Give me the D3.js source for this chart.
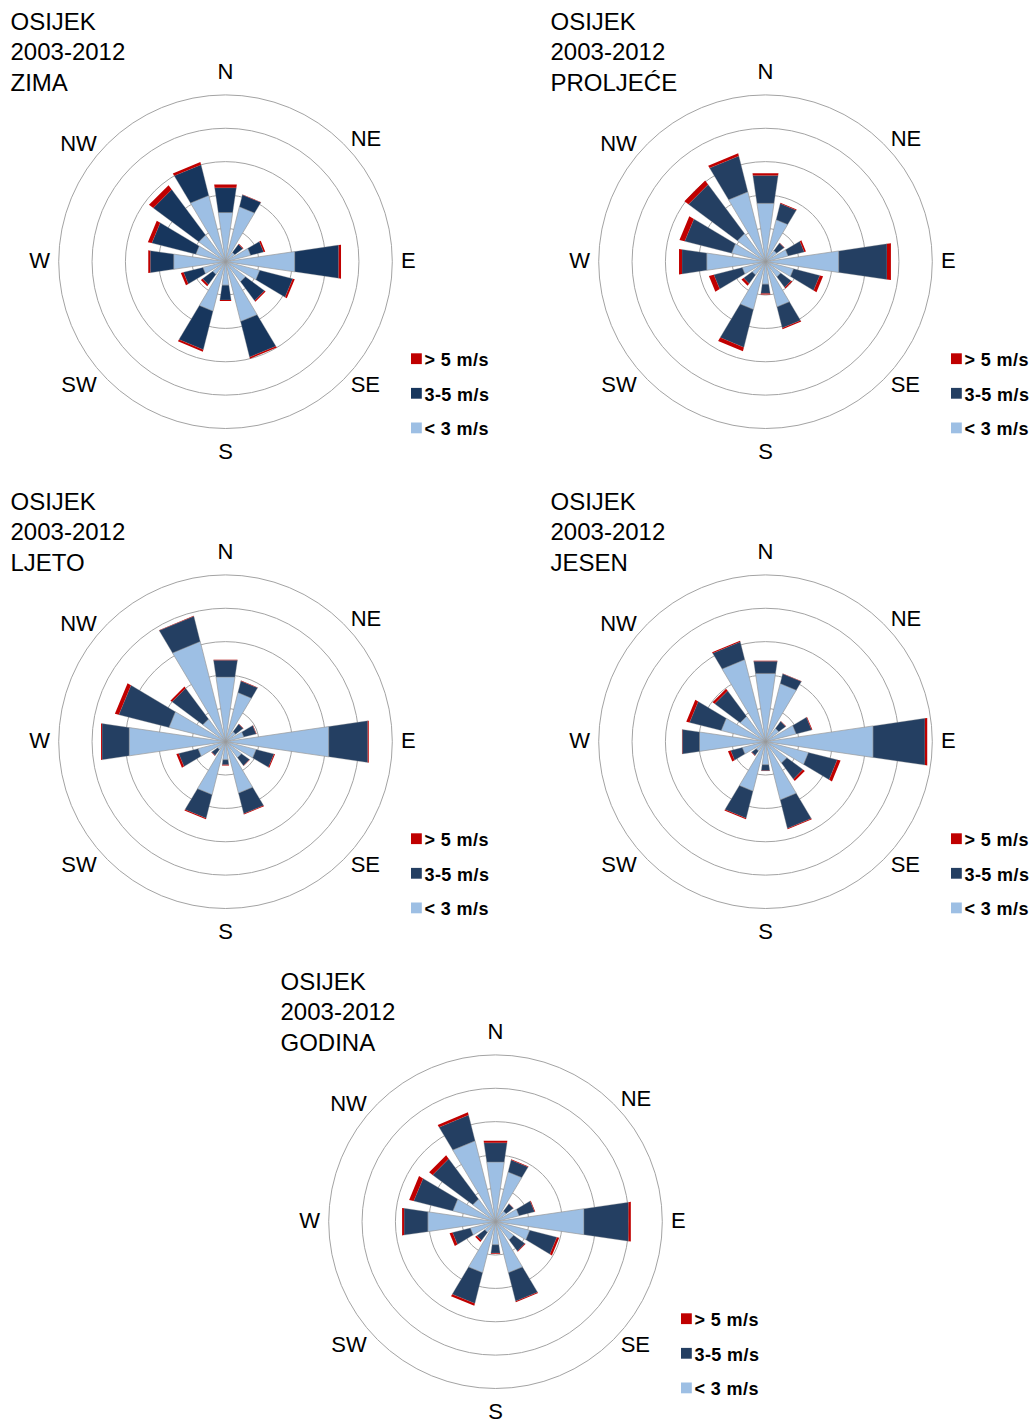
<!DOCTYPE html>
<html>
<head>
<meta charset="utf-8">
<script src="https://cdn.jsdelivr.net/npm/d3@7"></script>
<style>
  html, body { margin: 0; padding: 0; background: #ffffff; }
  svg { display: block; }
  text { font-family: "Liberation Sans", Arial, sans-serif; fill: #000; }
</style>
</head>
<body>
<svg id="chart" width="1036" height="1420"></svg>
<script>
// 16 wind directions, clockwise from north
const directions = ["N", "NNE", "NE", "ENE", "E", "ESE", "SE", "SSE",
                    "S", "SSW", "SW", "WSW", "W", "WNW", "NW", "NNW"];
// Compass labels drawn around each rose
const compassLabels = ["N", "NE", "E", "SE", "S", "SW", "W", "NW"];
// Speed classes (stack order from the centre outwards) and legend text
const speedKeys = ["low", "mid", "high"];
const legendLabels = ["> 5 m/s", "3-5 m/s", "< 3 m/s"];
// Grid rings (frequency, %)
const ringValues = [2, 4, 6, 8, 10];
const station = "OSIJEK";
const period = "2003-2012";

// Frequency (%) per direction for each speed class
const zimaLow  = [2.98, 3.40, 0.70, 1.56, 4.20, 2.12, 1.50, 3.70, 1.42, 3.06, 0.96, 1.40, 3.14, 1.84, 2.00, 4.10];
const zimaMid  = [1.50, 0.74, 0.60, 0.80, 2.66, 2.04, 1.42, 2.20, 0.90, 2.38, 0.76, 1.20, 1.42, 2.72, 3.40, 1.90];
const zimaHigh = [0.20, 0.02, 0.04, 0.10, 0.14, 0.12, 0.08, 0.10, 0.06, 0.12, 0.12, 0.16, 0.12, 0.24, 0.32, 0.16];

const proljeceLow  = [3.54, 2.60, 0.84, 1.40, 4.44, 1.74, 1.14, 2.80, 1.36, 2.96, 1.00, 1.44, 3.56, 2.10, 2.10, 4.32];
const proljeceMid  = [1.68, 1.00, 0.56, 1.00, 2.92, 1.62, 0.78, 1.30, 0.56, 2.34, 0.64, 1.76, 1.50, 2.90, 3.66, 2.22];
const proljeceHigh = [0.14, 0.04, 0.02, 0.10, 0.24, 0.20, 0.08, 0.08, 0.06, 0.24, 0.16, 0.30, 0.18, 0.32, 0.30, 0.16];

const ljetoLow  = [3.92, 3.04, 0.76, 1.14, 6.26, 1.90, 1.20, 3.18, 1.10, 3.28, 0.60, 1.70, 5.84, 3.50, 1.70, 6.20];
const ljetoMid  = [1.02, 0.72, 0.56, 0.76, 2.36, 1.10, 0.60, 1.28, 0.30, 1.46, 0.44, 1.20, 1.64, 3.10, 2.30, 1.56];
const ljetoHigh = [0.02, 0.02, 0.02, 0.02, 0.06, 0.06, 0.02, 0.04, 0.04, 0.06, 0.02, 0.14, 0.06, 0.24, 0.12, 0.02];

const jesenLow  = [4.14, 3.60, 1.00, 1.90, 6.52, 2.66, 1.60, 3.60, 1.40, 3.06, 0.70, 1.44, 4.00, 2.74, 1.90, 5.08];
const jesenMid  = [0.74, 0.60, 0.52, 0.96, 3.14, 1.78, 1.20, 1.76, 0.36, 1.68, 0.34, 0.72, 1.04, 1.96, 1.90, 1.10];
const jesenHigh = [0.02, 0.02, 0.02, 0.04, 0.14, 0.20, 0.14, 0.06, 0.02, 0.06, 0.02, 0.16, 0.02, 0.20, 0.16, 0.06];

const godinaLow  = [3.62, 3.08, 0.80, 1.46, 5.36, 2.12, 1.36, 3.16, 1.40, 3.16, 0.80, 1.56, 4.10, 2.64, 1.70, 5.00];
const godinaMid  = [1.16, 0.74, 0.54, 0.96, 2.70, 1.68, 0.84, 1.76, 0.50, 1.90, 0.60, 1.10, 1.44, 2.42, 3.00, 1.60];
const godinaHigh = [0.12, 0.04, 0.02, 0.04, 0.14, 0.14, 0.04, 0.06, 0.04, 0.14, 0.12, 0.18, 0.12, 0.28, 0.26, 0.16];

// One rose per season plus the whole year; x/y is the panel's top-left corner
const panels = [
  { season: "ZIMA",     low: zimaLow,     mid: zimaMid,     high: zimaHigh,     x: 0,   y: 0,   navy: "#17365d" },
  { season: "PROLJEĆE", low: proljeceLow, mid: proljeceMid, high: proljeceHigh, x: 540, y: 0,   navy: "#243f62" },
  { season: "LJETO",    low: ljetoLow,    mid: ljetoMid,    high: ljetoHigh,    x: 0,   y: 480, navy: "#243f62" },
  { season: "JESEN",    low: jesenLow,    mid: jesenMid,    high: jesenHigh,    x: 540, y: 480, navy: "#243f62" },
  { season: "GODINA",   low: godinaLow,   mid: godinaMid,   high: godinaHigh,   x: 270, y: 960, navy: "#243f62" }
];

const LIGHT = "#9dbfe4";
const RED = "#c00000";

const svg = d3.select("#chart");
svg.append("rect").attr("width", 1036).attr("height", 1420).attr("fill", "#fff");

const cx = 225.5, cy = 261.7;          // rose centre inside a panel
const r = d3.scaleLinear().domain([0, 10]).range([0, 166.8]);
const halfWidth = (8.35 * Math.PI) / 180;   // half the angular width of a bar

// Straight-edged wedge between two radii around a direction
function wedge(a, r0, r1) {
  const p = d3.path();
  const [x0, y0] = d3.pointRadial(a - halfWidth, r0);
  const [x1, y1] = d3.pointRadial(a - halfWidth, r1);
  const [x2, y2] = d3.pointRadial(a + halfWidth, r1);
  const [x3, y3] = d3.pointRadial(a + halfWidth, r0);
  p.moveTo(x0, y0); p.lineTo(x1, y1); p.lineTo(x2, y2); p.lineTo(x3, y3); p.closePath();
  return p.toString();
}

const dirAngle = d => (directions.indexOf(d) * 2 * Math.PI) / directions.length;

panels.forEach(panel => {
  const g = svg.append("g").attr("transform", `translate(${panel.x},${panel.y})`);

  // Title block
  const title = g.append("text").attr("x", 10.5).attr("y", 29.5)
    .style("font-size", "24px");
  [station, period, panel.season].forEach((line, i) => {
    title.append("tspan").attr("x", 10.5).attr("y", 29.5 + i * 30.5).text(line);
  });

  const rose = g.append("g").attr("transform", `translate(${cx},${cy})`);

  // Grid rings
  rose.selectAll("circle.ring").data(ringValues).join("circle")
    .attr("class", "ring")
    .attr("r", d => r(d))
    .attr("fill", "none")
    .attr("stroke", "#a3a3a3")
    .attr("stroke-width", 1);

  // Stacked bars
  const rows = directions.map((d, i) => ({ dir: d, low: panel.low[i], mid: panel.mid[i], high: panel.high[i] }));
  const stacked = d3.stack().keys(speedKeys)(rows);
  const fills = { low: LIGHT, mid: panel.navy, high: RED };

  stacked.forEach(layer => {
    rose.append("g").selectAll("path").data(layer).join("path")
      .attr("d", seg => wedge(dirAngle(seg.data.dir), r(seg[0]), r(seg[1])))
      .attr("fill", fills[layer.key])
      .attr("stroke", layer.key === "high" ? "none" : "#9a9a9a")
      .attr("stroke-opacity", layer.key === "low" ? 1 : 0.45)
      .attr("stroke-width", 0.7)
      .attr("stroke-linejoin", "round");
  });

  // Compass labels
  compassLabels.forEach(lbl => {
    const a = dirAngle(lbl);
    const sx = Math.sin(a), sy = -Math.cos(a);
    let x, y, anchor;
    if (Math.abs(sx) < 0.01) { x = 0; y = sy > 0 ? 189 : -190.5; anchor = "middle"; }
    else if (Math.abs(sy) < 0.01) { x = sx * 175.5; y = -1.2; anchor = sx > 0 ? "start" : "end"; }
    else {
      x = sx > 0 ? sx * 177 : sx * 182;
      y = sy < 0 ? (sx > 0 ? -123.5 : -119) : 122.3;
      anchor = sx > 0 ? "start" : "end";
    }
    rose.append("text")
      .attr("x", x).attr("y", y).attr("dy", "0.36em")
      .attr("text-anchor", anchor)
      .style("font-size", "22px")
      .text(lbl);
  });

  // Legend
  const legendColors = [RED, panel.navy, LIGHT];
  const leg = g.append("g").attr("transform", "translate(411,353.3)");
  legendLabels.forEach((lbl, i) => {
    const row = leg.append("g").attr("transform", `translate(0,${i * 34.6})`);
    row.append("rect").attr("width", 10.8).attr("height", 10.8).attr("fill", legendColors[i]);
    row.append("text").attr("x", 13.5).attr("y", 12.8)
      .style("font-size", "18px").style("font-weight", "bold")
      .style("letter-spacing", "0.4px")
      .text(lbl);
  });
});
</script>
</body>
</html>
